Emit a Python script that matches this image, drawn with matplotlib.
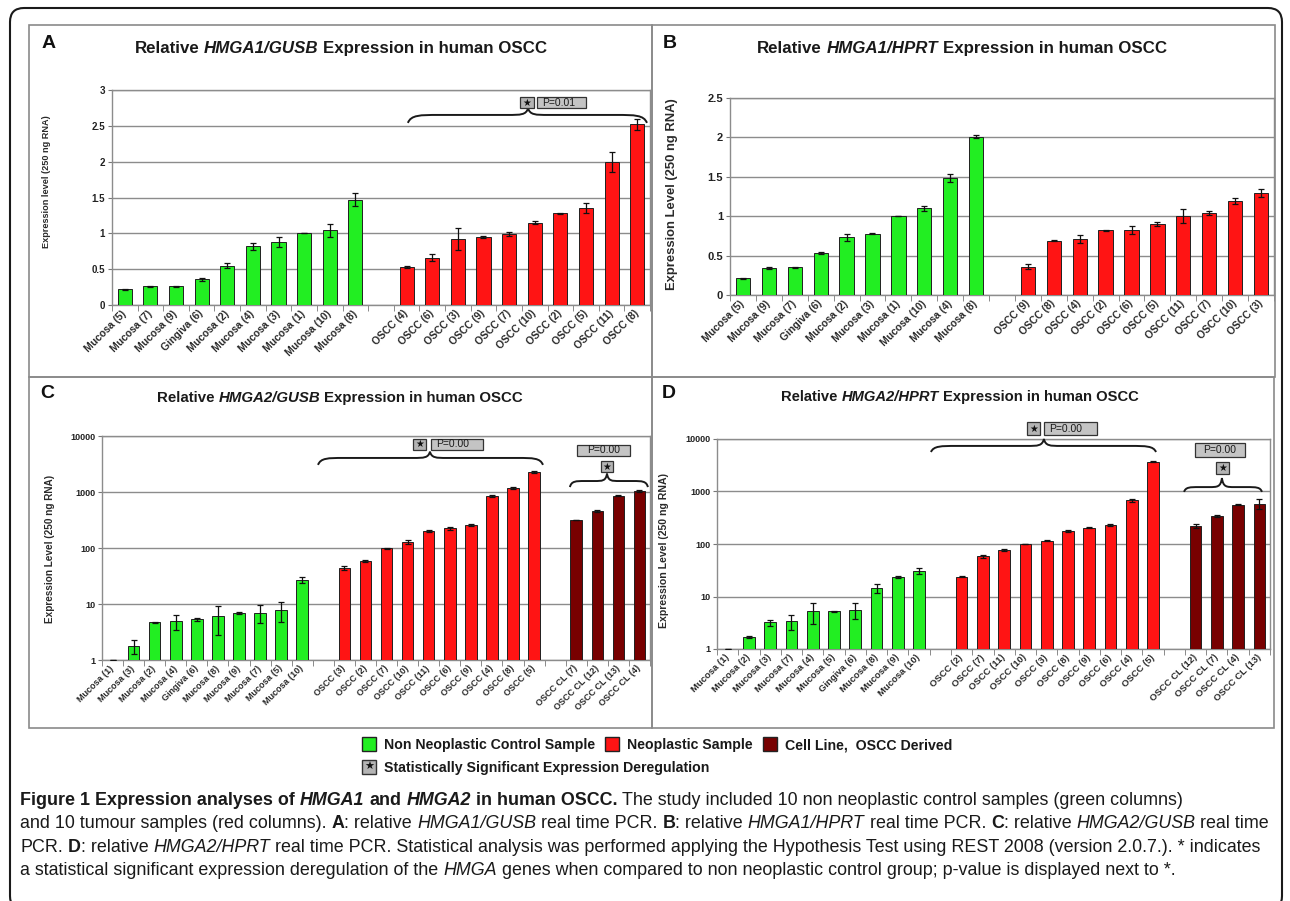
import numpy as np
import matplotlib
matplotlib.use('Agg')
import matplotlib.pyplot as plt
from matplotlib import font_manager as fm
from matplotlib.patches import Rectangle, PathPatch, FancyBboxPatch
from matplotlib.path import Path
from matplotlib.ticker import NullLocator, NullFormatter
from matplotlib.transforms import blended_transform_factory, IdentityTransform

# ---- data ----
a_ctrl_labels = ['Mucosa (5)', 'Mucosa (7)', 'Mucosa (9)', 'Gingiva (6)', 'Mucosa (2)',
                 'Mucosa (4)', 'Mucosa (3)', 'Mucosa (1)', 'Mucosa (10)', 'Mucosa (8)']
a_ctrl = [0.22, 0.26, 0.26, 0.36, 0.55, 0.82, 0.88, 1.00, 1.04, 1.47]
a_ctrl_err = [0.01, 0.01, 0.01, 0.02, 0.04, 0.05, 0.07, 0.0, 0.09, 0.09]
a_tum_labels = ['OSCC (4)', 'OSCC (6)', 'OSCC (3)', 'OSCC (9)', 'OSCC (7)',
                'OSCC (10)', 'OSCC (2)', 'OSCC (5)', 'OSCC (11)', 'OSCC (8)']
a_tum = [0.53, 0.66, 0.92, 0.95, 0.99, 1.15, 1.28, 1.36, 2.00, 2.52]
a_tum_err = [0.01, 0.05, 0.15, 0.01, 0.03, 0.02, 0.01, 0.07, 0.14, 0.08]

b_ctrl_labels = ['Mucosa (5)', 'Mucosa (9)', 'Mucosa (7)', 'Gingiva (6)', 'Mucosa (2)',
                 'Mucosa (3)', 'Mucosa (1)', 'Mucosa (10)', 'Mucosa (4)', 'Mucosa (8)']
b_ctrl = [0.21, 0.34, 0.35, 0.53, 0.73, 0.78, 1.00, 1.10, 1.49, 2.01]
b_ctrl_err = [0.01, 0.01, 0.01, 0.01, 0.04, 0.01, 0.0, 0.03, 0.05, 0.02]
b_tum_labels = ['OSCC (9)', 'OSCC (8)', 'OSCC (4)', 'OSCC (2)', 'OSCC (6)',
                'OSCC (5)', 'OSCC (11)', 'OSCC (7)', 'OSCC (10)', 'OSCC (3)']
b_tum = [0.36, 0.69, 0.71, 0.82, 0.82, 0.90, 1.00, 1.04, 1.19, 1.29]
b_tum_err = [0.03, 0.01, 0.05, 0.01, 0.05, 0.03, 0.09, 0.03, 0.04, 0.05]

c_ctrl_labels = ['Mucosa (1)', 'Mucosa (3)', 'Mucosa (2)', 'Mucosa (4)', 'Gingiva (6)',
                 'Mucosa (8)', 'Mucosa (9)', 'Mucosa (7)', 'Mucosa (5)', 'Mucosa (10)']
c_ctrl = [1.0, 1.8, 4.7, 4.9, 5.3, 6.0, 6.9, 7.0, 7.8, 27]
c_ctrl_err = [0.0, 0.5, 0.1, 1.4, 0.4, 3.2, 0.2, 2.5, 3.0, 3.0]
c_tum_labels = ['OSCC (3)', 'OSCC (2)', 'OSCC (7)', 'OSCC (10)', 'OSCC (11)',
                'OSCC (6)', 'OSCC (9)', 'OSCC (4)', 'OSCC (8)', 'OSCC (5)']
c_tum = [44, 58, 98, 130, 200, 225, 260, 850, 1200, 2300]
c_tum_err = [3, 2, 3, 10, 8, 15, 10, 50, 50, 80]
c_cl_labels = ['OSCC CL (7)', 'OSCC CL (12)', 'OSCC CL (13)', 'OSCC CL (4)']
c_cl = [310, 460, 860, 1050]
c_cl_err = [0, 20, 20, 30]

d_ctrl_labels = ['Mucosa (1)', 'Mucosa (2)', 'Mucosa (3)', 'Mucosa (7)', 'Mucosa (4)',
                 'Mucosa (5)', 'Gingiva (6)', 'Mucosa (8)', 'Mucosa (9)', 'Mucosa (10)']
d_ctrl = [1.0, 1.7, 3.2, 3.4, 5.2, 5.2, 5.6, 14.5, 23.5, 31]
d_ctrl_err = [0.0, 0.1, 0.4, 1.1, 2.2, 0.2, 1.8, 3.0, 1.0, 4.0]
d_tum_labels = ['OSCC (2)', 'OSCC (7)', 'OSCC (11)', 'OSCC (10)', 'OSCC (3)',
                'OSCC (8)', 'OSCC (9)', 'OSCC (6)', 'OSCC (4)', 'OSCC (5)']
d_tum = [24, 58, 77, 100, 115, 180, 205, 235, 680, 3700]
d_tum_err = [0.5, 5, 3, 2, 3, 8, 5, 10, 40, 100]
d_cl_labels = ['OSCC CL (12)', 'OSCC CL (7)', 'OSCC CL (4)', 'OSCC CL (13)']
d_cl = [225, 340, 560, 590]
d_cl_err = [20, 20, 10, 120]

lin_a_ticks = [0, 0.5, 1, 1.5, 2, 2.5, 3]
lin_a_labels = ['0', '0.5', '1', '1.5', '2', '2.5', '3']
lin_b_ticks = [0, 0.5, 1, 1.5, 2, 2.5]
lin_b_labels = ['0', '0.5', '1', '1.5', '2', '2.5']
log_ticks = [1, 10, 100, 1000, 10000]
log_labels = ['1', '10', '100', '1000', '10000']

legend_names = ['Non Neoplastic Control Sample', 'Neoplastic Sample', 'Cell Line,  OSCC Derived']
legend_star_name = 'Statistically Significant Expression Deregulation'

GREEN = '#22ee22'
RED = '#ff1414'
DARK = '#780000'

W, H = 1290, 901
SANS = ['Liberation Sans', 'DejaVu Sans']
names = {f.name for f in fm.fontManager.ttflist}
NARROW = ['Liberation Sans Narrow' if 'Liberation Sans Narrow' in names else 'Liberation Sans',
          'DejaVu Sans']
plt.rcParams['font.family'] = SANS

fig = plt.figure(figsize=(W / 100, H / 100), dpi=100)
renderer = fig.canvas.get_renderer()


def fx(x):
    return x / W


def fy(y):
    return 1 - y / H


def make_prop(size, weight='normal', style='normal', family=SANS):
    return fm.FontProperties(family=family, size=size, weight=weight, style=style)


def run_width(s, prop):
    w1 = renderer.get_text_width_height_descent('x' + s + 'x', prop, ismath=False)[0]
    w0 = renderer.get_text_width_height_descent('xx', prop, ismath=False)[0]
    return w1 - w0


def runs_width(runs, size, family=SANS):
    return sum(run_width(s, make_prop(size, w, st, family)) for s, w, st in runs)


def fit_size(runs, target, family=SANS, base=10.0):
    return base * target / runs_width(runs, base, family)


def draw_runs(x, y, runs, size, family=SANS, ha='left', color='#111111'):
    # y is the baseline in pixels from the top
    if ha == 'center':
        x -= runs_width(runs, size, family) / 2
    for s, w, st in runs:
        prop = make_prop(size, w, st, family)
        lead = len(s) - len(s.lstrip())
        xd = x + (run_width(s[:lead], prop) if lead else 0)
        if s.strip():
            fig.text(fx(xd), fy(y), s.strip(), fontproperties=prop, color=color,
                     ha='left', va='baseline')
        x += run_width(s, prop)
    return x


def pixel_rect(x0, y0, x1, y1, **kw):
    fig.add_artist(Rectangle((x0, H - y1), x1 - x0, y1 - y0,
                             transform=IdentityTransform(), **kw))


def brace(ax, x0, x1, xt, y_end, y_mid, y_tip, r_end=1.1, r_tip=0.8):
    trans = blended_transform_factory(ax.transData, ax.transAxes)
    verts = [(x0, y_end),
             (x0 + 0.1 * r_end, y_mid), (x0 + 0.4 * r_end, y_mid), (x0 + r_end, y_mid),
             (xt - r_tip, y_mid),
             (xt - 0.35 * r_tip, y_mid), (xt - 0.1 * r_tip, y_mid), (xt, y_tip),
             (xt + 0.1 * r_tip, y_mid), (xt + 0.35 * r_tip, y_mid), (xt + r_tip, y_mid),
             (x1 - r_end, y_mid),
             (x1 - 0.4 * r_end, y_mid), (x1 - 0.1 * r_end, y_mid), (x1, y_end)]
    codes = [Path.MOVETO, Path.CURVE4, Path.CURVE4, Path.CURVE4, Path.LINETO,
             Path.CURVE4, Path.CURVE4, Path.CURVE4, Path.CURVE4, Path.CURVE4, Path.CURVE4,
             Path.LINETO, Path.CURVE4, Path.CURVE4, Path.CURVE4]
    ax.add_patch(PathPatch(Path(verts, codes), transform=trans, fill=False,
                           ec='#1a1a1a', lw=1.4, clip_on=False, zorder=5))


def star_box(ax, x0, x1, y0, y1, size=7):
    trans = blended_transform_factory(ax.transData, ax.transAxes)
    ax.add_patch(Rectangle((x0, y0), x1 - x0, y1 - y0, transform=trans, fc='#b4b4b4',
                           ec='#333333', lw=0.9, clip_on=False, zorder=6))
    ax.text((x0 + x1) / 2, (y0 + y1) / 2, '\u2605', transform=trans, ha='center',
            va='center', fontsize=size, family=['DejaVu Sans'], color='#111111',
            clip_on=False, zorder=7)


def p_box(ax, x0, x1, y0, y1, text, centered=False, size=7.5):
    trans = blended_transform_factory(ax.transData, ax.transAxes)
    ax.add_patch(Rectangle((x0, y0), x1 - x0, y1 - y0, transform=trans, fc='#c4c4c4',
                           ec='#333333', lw=0.9, clip_on=False, zorder=6))
    xt = (x0 + x1) / 2 if centered else x0 + 0.1 * (x1 - x0)
    ax.text(xt, (y0 + y1) / 2, text, transform=trans, ha='center' if centered else 'left',
            va='center', fontsize=size, color='#1a1a1a', clip_on=False, zorder=7)


def panel(rect_px, groups, ylim, yticks, ytick_labels, log, tick_size, xlab_size):
    l, t, r, b = rect_px
    ax = fig.add_axes([fx(l), fy(b), (r - l) / W, (b - t) / H])
    pos = 0
    centers, labels = [], []
    for labs, vals, errs, color in groups:
        xs = np.arange(pos, pos + len(vals))
        ax.bar(xs, vals, width=0.55, color=color, edgecolor='#202020', linewidth=0.7,
               yerr=errs, error_kw=dict(ecolor='#101010', elinewidth=0.9, capsize=2.4,
                                        capthick=0.9, zorder=4), zorder=3)
        centers += list(xs)
        labels += labs
        pos += len(vals) + 1
    n = pos - 1
    if log:
        ax.set_yscale('log')
        ax.yaxis.set_minor_locator(NullLocator())
        ax.yaxis.set_minor_formatter(NullFormatter())
    ax.set_xlim(-0.5, n - 0.5)
    ax.set_ylim(*ylim)
    ax.set_yticks(yticks)
    ax.set_yticklabels(ytick_labels)
    ax.set_xticks(centers)
    ax.set_xticklabels(labels, rotation=45, ha='right', va='center', rotation_mode='anchor')
    ax.set_xticks(np.arange(-0.5, n), minor=True)
    ax.yaxis.grid(True, color='#8c8c8c', lw=1.0)
    ax.set_axisbelow(True)
    for sp in ax.spines.values():
        sp.set_color('#8c8c8c')
        sp.set_linewidth(1.0)
    ax.tick_params(axis='y', which='major', length=3, color='#777777', labelsize=tick_size,
                   pad=2, labelcolor='#222222')
    ax.tick_params(axis='x', which='major', length=0, pad=5, labelsize=xlab_size,
                   labelcolor='#2a2a2a')
    ax.tick_params(axis='x', which='minor', length=4, color='#777777')
    for lab in ax.get_yticklabels() + ax.get_xticklabels():
        lab.set_fontweight('bold')
    return ax


# ---- outer frame and panel boxes ----
fig.add_artist(FancyBboxPatch((10, H - 910), 1272, 902,
                              boxstyle='round,pad=0,rounding_size=14',
                              transform=IdentityTransform(), fill=False, ec='#1a1a1a', lw=1.5))
for box in [(29, 25, 652, 377), (652, 25, 1275, 377), (29, 377, 652, 728), (652, 377, 1274, 728)]:
    pixel_rect(*box, fill=False, ec='#8a8a8a', lw=1.2)

# ---- panel A ----
axA = panel((112, 90, 650, 305),
            [(a_ctrl_labels, a_ctrl, a_ctrl_err, GREEN), (a_tum_labels, a_tum, a_tum_err, RED)],
            (0, 3), lin_a_ticks, lin_a_labels, False, 7, 7.5)
brace(axA, 11.05, 20.38, 15.74, 0.847, 0.884, 0.915, r_end=1.2, r_tip=0.8)
star_box(axA, 15.42, 15.97, 0.916, 0.967)
p_box(axA, 16.09, 18.0, 0.916, 0.967, 'P=0.01')

# ---- panel B ----
axB = panel((730, 98, 1274, 295),
            [(b_ctrl_labels, b_ctrl, b_ctrl_err, GREEN), (b_tum_labels, b_tum, b_tum_err, RED)],
            (0, 2.5), lin_b_ticks, lin_b_labels, False, 8, 7.5)

# ---- panel C ----
axC = panel((102, 436, 650, 660),
            [(c_ctrl_labels, c_ctrl, c_ctrl_err, GREEN), (c_tum_labels, c_tum, c_tum_err, RED),
             (c_cl_labels, c_cl, c_cl_err, DARK)],
            (1, 10000), log_ticks, log_labels, True, 6.5, 6.5)
brace(axC, 9.75, 20.42, 15.06, 0.871, 0.902, 0.93, r_end=1.2, r_tip=0.8)
star_box(axC, 14.25, 14.87, 0.938, 0.987)
p_box(axC, 15.11, 17.57, 0.938, 0.987, 'P=0.00')
brace(axC, 21.7, 25.4, 23.46, 0.772, 0.799, 0.832, r_end=0.7, r_tip=0.6)
star_box(axC, 23.17, 23.74, 0.839, 0.888)
p_box(axC, 22.03, 24.55, 0.911, 0.96, 'P=0.00', centered=True)

# ---- panel D ----
axD = panel((717, 439, 1270, 649),
            [(d_ctrl_labels, d_ctrl, d_ctrl_err, GREEN), (d_tum_labels, d_tum, d_tum_err, RED),
             (d_cl_labels, d_cl, d_cl_err, DARK)],
            (1, 10000), log_ticks, log_labels, True, 6.5, 6.8)
brace(axD, 9.56, 20.14, 14.87, 0.938, 0.967, 1.0, r_end=1.2, r_tip=0.8)
star_box(axD, 14.07, 14.69, 1.019, 1.081)
p_box(axD, 14.87, 17.36, 1.019, 1.081, 'P=0.00')
brace(axD, 21.46, 25.12, 23.24, 0.748, 0.771, 0.814, r_end=0.7, r_tip=0.6)
star_box(axD, 22.96, 23.57, 0.833, 0.89)
p_box(axD, 21.97, 24.32, 0.914, 0.981, 'P=0.00', centered=True)

# ---- panel letters, titles, y labels ----
for letter, x, y in [('A', 49, 44), ('B', 670, 44), ('C', 47, 394), ('D', 669, 394)]:
    fig.text(fx(x), fy(y), letter, fontsize=14, fontweight='bold', ha='center', va='center',
             color='#111111')

titles = [('HMGA1/GUSB', 341, 53, 412), ('HMGA1/HPRT', 962, 53, 410),
          ('HMGA2/GUSB', 340, 402, 367), ('HMGA2/HPRT', 960, 401, 357)]
for gene, cx, base, width in titles:
    runs = [('Relative ', 'bold', 'normal'), (gene, 'bold', 'italic'),
            (' Expression in human OSCC', 'bold', 'normal')]
    draw_runs(cx, base, runs, fit_size(runs, width), ha='center', color='#1a1a1a')

ylabels = [('Expression level (250 ng RNA)', 47, 182, 133),
           ('Expression Level (250 ng RNA)', 672, 194, 192),
           ('Expression Level (250 ng RNA)', 50, 549, 148),
           ('Expression Level (250 ng RNA)', 664, 550, 155)]
for txt, x, y, length in ylabels:
    size = fit_size([(txt, 'bold', 'normal')], length)
    fig.text(fx(x), fy(y), txt, fontsize=size, fontweight='bold', rotation=90,
             ha='center', va='center', color='#2a2a2a')

# ---- legend (laid out left to right, sized to span 362..952 px) ----
sq, gap_in, gap_out = 14, 8, 10
fixed = 3 * sq + 3 * gap_in + 2 * gap_out
leg_size = fit_size([(t, 'bold', 'normal') for t in legend_names], 590 - fixed)
x = 362
for col, txt in zip([GREEN, RED, DARK], legend_names):
    pixel_rect(x, 737, x + sq, 751, fc=col, ec='#222222', lw=1.0)
    x = draw_runs(x + sq + gap_in, 749, [(txt, 'bold', 'normal')], leg_size,
                  color='#1a1a1a') + gap_out
pixel_rect(362, 760, 376, 774, fc='#b4b4b4', ec='#333333', lw=1.0)
fig.text(fx(369), fy(767), '\u2605', fontsize=8, family=['DejaVu Sans'],
         ha='center', va='center', color='#111111')
draw_runs(362 + sq + gap_in, 772, [(legend_star_name, 'bold', 'normal')], leg_size,
          color='#1a1a1a')

# ---- caption ----
Bd, Nm, It = 'bold', 'normal', 'italic'
cap_lines = [
    [('Figure 1 Expression analyses of ', Bd, Nm), ('HMGA1', Bd, It), (' and ', Bd, Nm),
     ('HMGA2', Bd, It), (' in human OSCC.', Bd, Nm),
     (' The study included 10 non neoplastic control samples (green columns)', Nm, Nm)],
    [('and 10 tumour samples (red columns). ', Nm, Nm), ('A', Bd, Nm), (': relative ', Nm, Nm),
     ('HMGA1/GUSB', Nm, It), (' real time PCR. ', Nm, Nm), ('B', Bd, Nm), (': relative ', Nm, Nm),
     ('HMGA1/HPRT', Nm, It), (' real time PCR. ', Nm, Nm), ('C', Bd, Nm), (': relative ', Nm, Nm),
     ('HMGA2/GUSB', Nm, It), (' real time', Nm, Nm)],
    [('PCR. ', Nm, Nm), ('D', Bd, Nm), (': relative ', Nm, Nm), ('HMGA2/HPRT', Nm, It),
     (' real time PCR. Statistical analysis was performed applying the Hypothesis Test using '
      'REST 2008 (version 2.0.7.). * indicates', Nm, Nm)],
    [('a statistical significant expression deregulation of the ', Nm, Nm), ('HMGA', Nm, It),
     (' genes when compared to non neoplastic control group; p-value is displayed next to *.',
      Nm, Nm)],
]
cap_size = fit_size(cap_lines[1], 1250, family=NARROW)
for runs, base in zip(cap_lines, [805, 828, 852, 875]):
    draw_runs(20, base, runs, cap_size, family=NARROW, color='#1a1a1a')

fig.savefig('out.png', dpi=100)
